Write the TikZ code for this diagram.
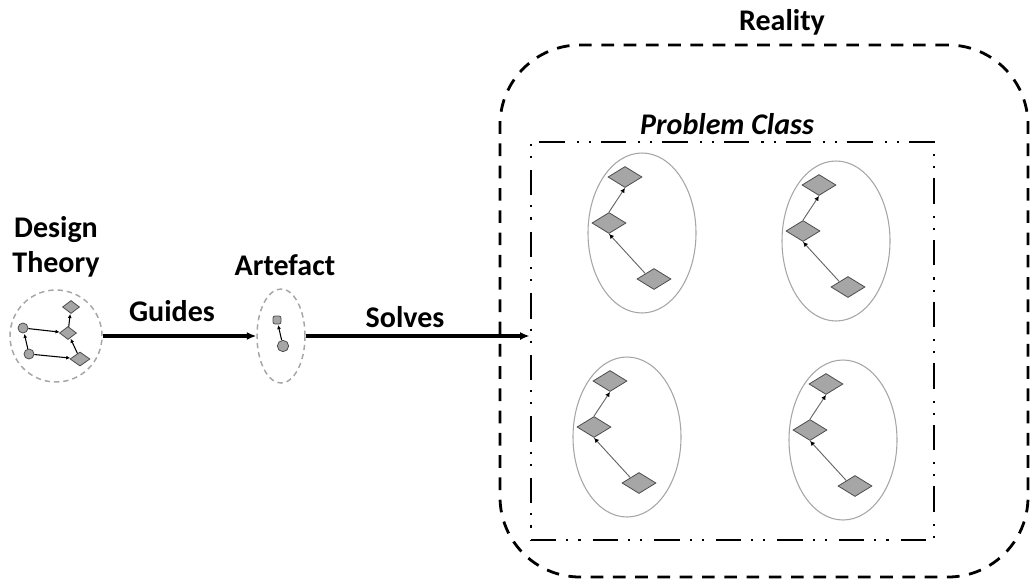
\documentclass[tikz,border=0pt]{standalone}
\usepackage{fontspec}
\setmainfont{Carlito}
\usetikzlibrary{shapes.geometric,arrows.meta}

\tikzset{
  lbl/.style={font=\fontsize{22.5}{27}\selectfont\bfseries, inner sep=0, anchor=base},
  realitybox/.style={draw, line width=2.1pt, dash pattern=on 9.5pt off 7.2pt,
    rounded corners=60pt, minimum width=396pt, minimum height=399pt, inner sep=0},
  classbox/.style={draw, line width=2.2pt,
    dash pattern=on 19pt off 7.5pt on 1.6pt off 7.5pt on 1.6pt off 9pt,
    minimum width=302.25pt, minimum height=298.5pt, inner sep=0},
  bigell/.style={draw=black!35, line width=0.8pt, ellipse, minimum width=81pt,
    minimum height=120pt, inner sep=0},
  bigdia/.style={draw=black!70, fill=black!35, line width=0.6pt, diamond,
    minimum width=25.5pt, minimum height=15.75pt, inner sep=0},
  thinlink/.style={draw=black!60, line width=0.7pt,
    -{Latex[length=3.6pt,width=3.6pt,color=black]}},
  smalldia/.style={draw=black!70, fill=black!35, line width=0.6pt, diamond,
    inner sep=0},
  smallcirc/.style={draw=black!70, fill=black!35, line width=0.6pt, circle,
    minimum size=7.5pt, inner sep=0},
  smalllink/.style={draw=black, line width=0.8pt, shorten >=0.5pt,
    -{Latex[length=3pt,width=3pt]}},
  holder/.style={draw=black!35, line width=1.1pt, dash pattern=on 4pt off 3pt,
    inner sep=0},
  mainlink/.style={line width=2.3pt, -{Latex[length=7pt,width=6pt]}},
  cluster/.pic={
    \node[bigell] (-ring) at (0,0) {};
    \node[bigdia] (-top) at (-17,-56) {};
    \node[bigdia] (-mid) at (-33,-10) {};
    \node[bigdia] (-low) at (12,46) {};
    \draw[thinlink] (-mid.north) -- (-top.south);
    \draw[thinlink] (-low.north west) -- (-mid.south);
  }
}

\begin{document}
\begin{tikzpicture}[x=0.75pt,y=-0.75pt]
\useasboundingbox (0,0) rectangle (1032,582);

% outer region and the problem class inside it
\node[realitybox] (reality) at (764,311) {};
\node[lbl] (realitylbl) at (782,30) {Reality};
\node[classbox] (class) at (732.5,341) {};
\node[lbl, font=\fontsize{22.5}{27}\selectfont\bfseries\itshape] (classlbl) at (727,134) {Problem Class};

% four problem instances
\pic (p1) at (642,233) {cluster};
\pic (p2) at (836,241) {cluster};
\pic (p3) at (627,437) {cluster};
\pic (p4) at (843,440) {cluster};

% design theory
\node[lbl] (design) at (56,237) {Design};
\node[lbl] (theory) at (56,272) {Theory};
\node[holder, circle, minimum size=69pt] (dt) at (56,336) {};
\node[smallcirc] (dtc1) at (23,328) {};
\node[smallcirc] (dtc2) at (29,354) {};
\node[smalldia, minimum width=12.75pt, minimum height=9.75pt] (dtd1) at (71,307) {};
\node[smalldia, minimum width=12.75pt, minimum height=9.75pt] (dtd2) at (68,333) {};
\node[smalldia, minimum width=15pt, minimum height=10.5pt] (dtd3) at (80,359) {};
\draw[smalllink] (dtc1) -- (dtd2);
\draw[smalllink] (dtc2) -- (dtd3);
\draw[smalllink] (dtc2) -- (dtc1);
\draw[smalllink] (dtd2) -- (dtd1);
\draw[smalllink] (dtd3) -- (dtd2);

% artefact
\node[lbl] (artlbl) at (285,275) {Artefact};
\node[holder, ellipse, minimum width=36pt, minimum height=70.5pt] (art) at (281,336) {};
\node[draw=black!70, fill=black!35, line width=0.6pt, rounded corners=1.5pt,
  minimum size=6pt, inner sep=0] (arta) at (277,320) {};
\node[smallcirc, minimum size=8.5pt] (artb) at (283,346) {};
\draw[smalllink] (artb) -- (arta);

% relations
\draw[mainlink] (dt.east) -- (art.west);
\node[lbl] (guides) at (172,321) {Guides};
\draw[mainlink] (art.east) -- (art.east -| class.west);
\node[lbl] (solves) at (405,327) {Solves};
\end{tikzpicture}
\end{document}
